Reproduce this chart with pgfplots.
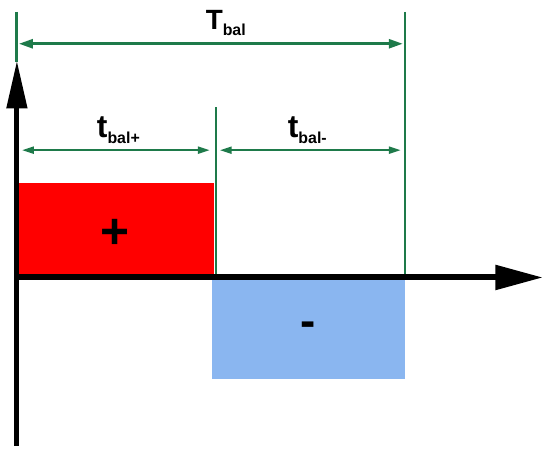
\documentclass[border=0pt]{standalone}
\usepackage{pgfplots}
\pgfplotsset{compat=1.18}
\usepackage{fontspec}
\setmainfont{Liberation Sans}
\usetikzlibrary{arrows.meta}
\definecolor{posred}{HTML}{FF0000}
\definecolor{negblue}{HTML}{8AB6F0}
\definecolor{dimgreen}{HTML}{1E7A4A}

\newcommand{\lbl}[3]{{\bfseries\fontsize{#1}{#1}\selectfont #2\raisebox{-6pt}{\fontsize{16}{16}\selectfont #3}}}

\begin{document}
\begin{tikzpicture}
  \begin{axis}[
      scale only axis,
      width=546pt, height=450pt,
      xmin=0, xmax=546, ymin=0, ymax=450,
      axis lines=none,
      clip=false,
    ]
    % keep the full canvas
    \path (axis cs:0,0) rectangle (axis cs:546,450);

    % pulse areas
    \addplot[fill=posred, draw=none] coordinates {(19,170)(215,170)(215,266)(19,266)} -- cycle;
    \addplot[fill=negblue, draw=none] coordinates {(213,170)(407,170)(407,69)(213,69)} -- cycle;

    % green extension lines
    \addplot[dimgreen, line width=3pt] coordinates {(17,438)(17,388)};
    \addplot[dimgreen, line width=1.6pt] coordinates {(217,342)(217,171)};
    \addplot[dimgreen, line width=1.6pt] coordinates {(407,438)(407,171)};

    % dimension arrows
    \addplot[dimgreen, line width=2.6pt, {Triangle[length=14pt,width=9pt]}-{Triangle[length=14pt,width=9pt]}]
      coordinates {(19,406)(405,406)};
    \addplot[dimgreen, line width=2.2pt, {Triangle[length=12pt,width=7pt]}-{Triangle[length=12pt,width=7pt]}]
      coordinates {(22,299)(211,299)};
    \addplot[dimgreen, line width=2.2pt, {Triangle[length=12pt,width=7pt]}-{Triangle[length=12pt,width=7pt]}]
      coordinates {(221,299)(403,299)};

    % axes
    \addplot[black, line width=6pt, -{Triangle[length=48pt,width=24pt]}]
      coordinates {(15,171)(546,171)};
    \addplot[black, line width=5pt, -{Triangle[length=48pt,width=20pt]}]
      coordinates {(17,2)(17,389)};

    % labels
    \node[anchor=base, inner sep=0pt] at (axis cs:227,420) {\lbl{28}{T}{bal}};
    \node[anchor=base, inner sep=0pt] at (axis cs:119,312) {\lbl{32}{t}{bal+}};
    \node[anchor=base, inner sep=0pt] at (axis cs:309,312) {\lbl{32}{t}{bal-}};
    \node[inner sep=0pt] at (axis cs:116,215) {\bfseries\fontsize{50}{50}\selectfont +};
    \node[inner sep=0pt] at (axis cs:310,119) {\bfseries\fontsize{46}{46}\selectfont -};
  \end{axis}
\end{tikzpicture}
\end{document}
